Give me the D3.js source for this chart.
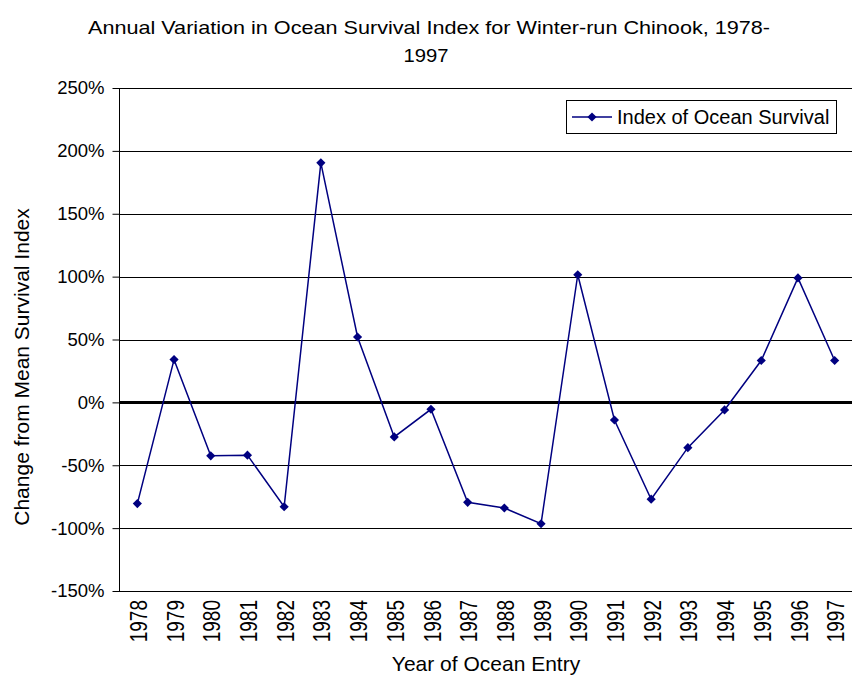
<!DOCTYPE html>
<html>
<head>
<meta charset="utf-8">
<script src="https://cdn.jsdelivr.net/npm/d3@7"></script>
<style>
  body { margin: 0; background: #fff; }
  svg text { font-family: "Liberation Sans", Arial, sans-serif; fill: #000; }
</style>
</head>
<body>
<div id="chart"></div>
<script>
// data
var years = ["1978","1979","1980","1981","1982","1983","1984","1985","1986","1987",
             "1988","1989","1990","1991","1992","1993","1994","1995","1996","1997"];
var survival = [-80.5, 34, -42.5, -42, -83, 190.5, 52, -27.5, -5.5, -79.5,
                -84, -96.5, 101.5, -14, -77, -36, -6, 33.3, 99, 33.3];
var yTicks = [-150, -100, -50, 0, 50, 100, 150, 200, 250];

var w = 852, h = 679;
var plotL = 119, plotR = 853, plotT = 88, plotB = 591;

var svg = d3.select("#chart").append("svg")
	.attr("width", w)
	.attr("height", h);

var x = d3.scaleBand().domain(years).range([plotL, plotR]);
var y = d3.scaleLinear().domain([-150, 250]).range([plotB, plotT]);

// gridlines
svg.selectAll(".grid")
	.data(yTicks)
	.enter().append("line")
	.attr("x1", plotL).attr("x2", plotR)
	.attr("y1", function(d) { return Math.round(y(d)) + 0.5; })
	.attr("y2", function(d) { return Math.round(y(d)) + 0.5; })
	.attr("stroke", "#000")
	.attr("stroke-width", 1);

// zero line heavier
svg.append("line")
	.attr("x1", plotL).attr("x2", plotR)
	.attr("y1", y(0)).attr("y2", y(0))
	.attr("stroke", "#000")
	.attr("stroke-width", 3);

// y axis
var yAxis = d3.axisLeft(y)
	.tickValues(yTicks)
	.tickSize(7)
	.tickPadding(8)
	.tickFormat(function(d) { return d + "%"; });

var gy = svg.append("g")
	.attr("transform", "translate(" + (plotL + 0.5) + ",0)")
	.call(yAxis);
gy.select(".domain").attr("stroke", "#000")
	.attr("d", "M0," + (Math.round(y(250)) + 0.5) + "V" + (Math.round(y(-150)) + 0.5));
gy.selectAll(".tick line").attr("stroke", "#000");
gy.selectAll(".tick text")
	.attr("font-family", "Liberation Sans, Arial, sans-serif")
	.attr("font-size", 18.5)
	.attr("fill", "#000");

// x labels, rotated
svg.selectAll(".xlab")
	.data(years)
	.enter().append("text")
	.attr("class", "xlab")
	.attr("transform", function(d) {
		return "translate(" + (x(d) + x.bandwidth() / 2 + 1) + "," + 600 + ") rotate(-90) scale(1,1.25)";
	})
	.attr("dy", "0.36em")
	.attr("text-anchor", "end")
	.attr("font-size", 19)
	.text(function(d) { return d; });

// line
var line = d3.line()
	.x(function(d, i) { return x(years[i]) + x.bandwidth() / 2; })
	.y(function(d) { return y(d); });

svg.append("path")
	.datum(survival)
	.attr("d", line)
	.attr("fill", "none")
	.attr("stroke", "#000080")
	.attr("stroke-width", 1.5);

var diamond = d3.symbol().type(d3.symbolSquare).size(42);

svg.selectAll(".pt")
	.data(survival)
	.enter().append("path")
	.attr("class", "pt")
	.attr("d", diamond)
	.attr("transform", function(d, i) {
		return "translate(" + (x(years[i]) + x.bandwidth() / 2) + "," + y(d) + ") rotate(45)";
	})
	.attr("fill", "#000080");

// title
svg.append("text")
	.attr("x", 429).attr("y", 34)
	.attr("text-anchor", "middle")
	.attr("font-size", 19)
	.attr("textLength", 682)
	.attr("lengthAdjust", "spacingAndGlyphs")
	.text("Annual Variation in Ocean Survival Index for Winter-run Chinook, 1978-");
svg.append("text")
	.attr("x", 426).attr("y", 62)
	.attr("text-anchor", "middle")
	.attr("font-size", 19)
	.attr("textLength", 45)
	.attr("lengthAdjust", "spacingAndGlyphs")
	.text("1997");

// axis titles
svg.append("text")
	.attr("transform", "translate(29,367) rotate(-90)")
	.attr("text-anchor", "middle")
	.attr("font-size", 21)
	.text("Change from Mean Survival Index");

svg.append("text")
	.attr("x", 486).attr("y", 671)
	.attr("text-anchor", "middle")
	.attr("font-size", 21)
	.text("Year of Ocean Entry");

// legend
var lg = svg.append("g").attr("transform", "translate(566,100)");
lg.append("rect")
	.attr("x", 0.5).attr("y", 0.5)
	.attr("width", 270).attr("height", 33)
	.attr("fill", "#fff")
	.attr("stroke", "#000");
lg.append("line")
	.attr("x1", 6).attr("x2", 46)
	.attr("y1", 17).attr("y2", 17)
	.attr("stroke", "#000080")
	.attr("stroke-width", 1.5);
lg.append("path")
	.attr("d", diamond)
	.attr("transform", "translate(26,17) rotate(45)")
	.attr("fill", "#000080");
lg.append("text")
	.attr("x", 51).attr("y", 24)
	.attr("font-size", 20)
	.text("Index of Ocean Survival");
</script>
</body>
</html>
